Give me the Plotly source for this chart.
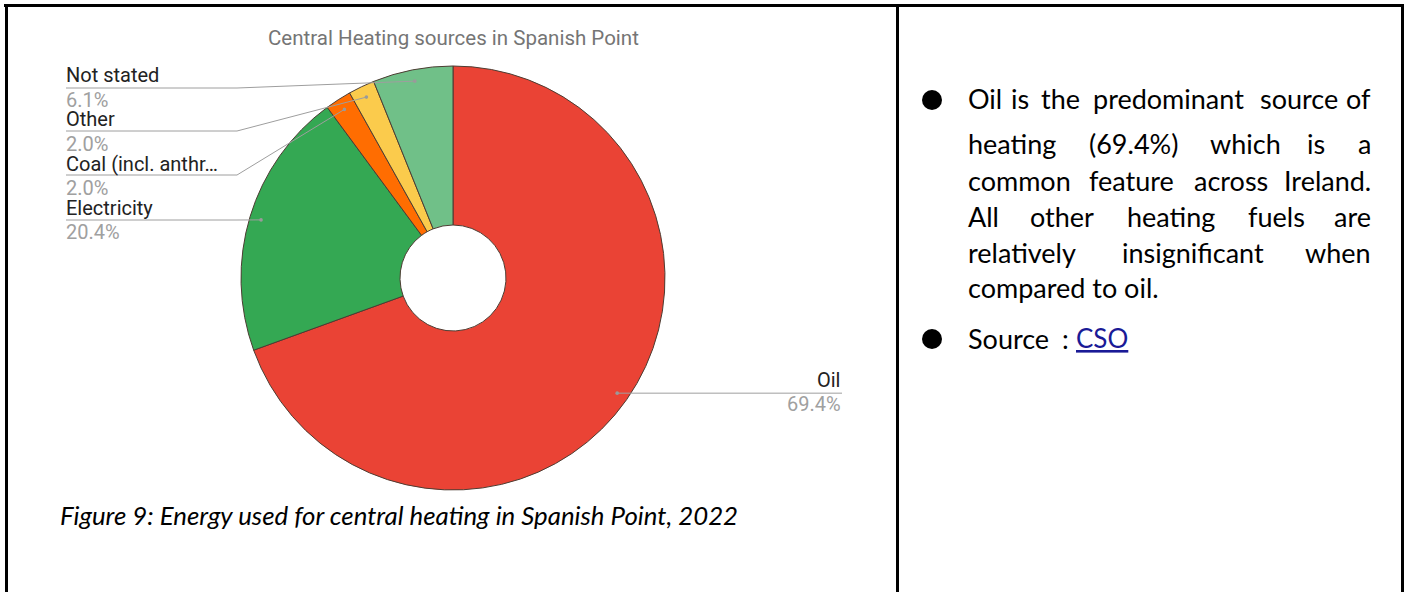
import math
import plotly.graph_objects as go

# ---------------- data ----------------
labels = ["Oil", "Electricity", "Coal (incl. anthracite)", "Other", "Not stated"]
short_labels = ["Oil", "Electricity", "Coal (incl. anthr\u2026", "Other", "Not stated"]
values = [69.4, 20.4, 2.0, 2.0, 6.1]
pct_text = ["69.4%", "20.4%", "2.0%", "2.0%", "6.1%"]
colors = ["#EA4335", "#34A853", "#FF6D01", "#FBCB4C", "#70C088"]

chart_title = "Central Heating sources in Spanish Point"
caption = "Figure 9: Energy used for central heating in Spanish Point, 2022"

# right-hand cell text: each line as list of (word, left-x) ; last word right-aligned
text_lines = [
    [("Oil", 966), ("is", 1009), ("the", 1039), ("predominant", 1091), ("source", 1258), ("of", None)],
    [("heating", 966), ("(69.4%)", 1087), ("which", 1208), ("is", 1305), ("a", None)],
    [("common", 966), ("feature", 1087), ("across", 1192), ("Ireland.", None)],
    [("All", 966), ("other", 1028), ("heating", 1125), ("fuels", 1246), ("are", None)],
    [("relatively", 966), ("insignificant", 1120), ("when", None)],
    [("compared to oil.", 966)],
]
line_y = [99, 144, 180, 216, 252, 287]

W, H = 1404, 592


def X(x):
    return x / W


def Y(y):
    return 1 - y / H


# pie geometry in pixels
cx, cy, R = 453, 278, 212

fig = go.Figure()
fig.add_trace(go.Pie(
    labels=labels,
    values=values,
    marker=dict(colors=colors, line=dict(color="#4d3d33", width=1)),
    hole=0.25,
    sort=False,
    direction="clockwise",
    rotation=0,
    textinfo="none",
    hoverinfo="label+percent",
    showlegend=False,
    domain=dict(x=[X(cx - R), X(cx + R)], y=[Y(cy + R), Y(cy - R)]),
))

shapes = []
annotations = []

# leader-line anchor points computed from the data
total = sum(values)
cum = 0
dots = []
for v in values:
    mid = (cum + v / 2) / total * 2 * math.pi
    cum += v
    r = 0.946 * R
    dots.append((cx + r * math.sin(mid), cy - r * math.cos(mid)))

# label rows (name y, underline y, pct y)
left_rows = {4: (75, 88, 100), 3: (119, 131, 144), 2: (164, 175, 188), 1: (208, 220, 232)}
name_font = dict(family="Roboto, Arial, sans-serif", size=20, color="#222222")
pct_font = dict(family="Roboto, Arial, sans-serif", size=20, color="#a0a0a0")
line_col = "#9e9e9e"

for i, (ny, uy, py) in left_rows.items():
    dx, dy = dots[i]
    shapes.append(dict(type="line", xref="paper", yref="paper", x0=X(66), y0=Y(uy), x1=X(237), y1=Y(uy),
                       line=dict(color=line_col, width=1)))
    shapes.append(dict(type="line", xref="paper", yref="paper", x0=X(237), y0=Y(uy), x1=X(dx), y1=Y(dy),
                       line=dict(color=line_col, width=1)))
    annotations.append(dict(xref="paper", yref="paper", x=X(64), y=Y(ny), text=short_labels[i],
                            showarrow=False, xanchor="left", yanchor="middle", font=name_font))
    annotations.append(dict(xref="paper", yref="paper", x=X(64), y=Y(py), text=pct_text[i],
                            showarrow=False, xanchor="left", yanchor="middle", font=pct_font))

# Oil label on the right
dx, dy = dots[0]
shapes.append(dict(type="line", xref="paper", yref="paper", x0=X(dx), y0=Y(dy), x1=X(842), y1=Y(dy),
                   line=dict(color=line_col, width=1)))
annotations.append(dict(xref="paper", yref="paper", x=X(843), y=Y(380), text=short_labels[0],
                        showarrow=False, xanchor="right", yanchor="middle", font=name_font))
annotations.append(dict(xref="paper", yref="paper", x=X(843), y=Y(404), text=pct_text[0],
                        showarrow=False, xanchor="right", yanchor="middle", font=pct_font))

# dots
for (dx, dy) in dots:
    shapes.append(dict(type="circle", xref="paper", yref="paper", x0=X(dx - 1.8), x1=X(dx + 1.8),
                       y0=Y(dy + 1.8), y1=Y(dy - 1.8), fillcolor="#9a9a9a", line=dict(width=0)))

# chart title
annotations.append(dict(xref="paper", yref="paper", x=X(453), y=Y(38), text=chart_title, showarrow=False,
                        xanchor="center", yanchor="middle",
                        font=dict(family="Roboto, Arial, sans-serif", size=20.5, color="#757575")))

# caption
annotations.append(dict(xref="paper", yref="paper", x=X(58), y=Y(515), text="<i>" + caption + "</i>",
                        showarrow=False, xanchor="left", yanchor="middle",
                        font=dict(family="Lato, sans-serif", size=25.8, color="#000000")))

# right-hand text
body_font = dict(family="Lato, sans-serif", size=27, color="#000000")
for words, yy in zip(text_lines, line_y):
    for w, xx in words:
        if xx is None:
            annotations.append(dict(xref="paper", yref="paper", x=X(1373), y=Y(yy), text=w, showarrow=False,
                                    xanchor="right", yanchor="middle", font=body_font))
        else:
            annotations.append(dict(xref="paper", yref="paper", x=X(xx), y=Y(yy), text=w, showarrow=False,
                                    xanchor="left", yanchor="middle", font=body_font))

annotations.append(dict(xref="paper", yref="paper", x=X(966), y=Y(338), text="Source", showarrow=False,
                        xanchor="left", yanchor="middle", font=body_font))
annotations.append(dict(xref="paper", yref="paper", x=X(1060), y=Y(338), text=":", showarrow=False,
                        xanchor="left", yanchor="middle", font=body_font))
annotations.append(dict(xref="paper", yref="paper", x=X(1074), y=Y(338),
                        text="<u>CSO</u>", showarrow=False,
                        xanchor="left", yanchor="middle", font=dict(family="Lato, sans-serif", size=26, color="#1a1a96")))

# bullets
for by in [100, 339]:
    shapes.append(dict(type="circle", xref="paper", yref="paper", x0=X(932 - 10), x1=X(932 + 10),
                       y0=Y(by + 10), y1=Y(by - 10), fillcolor="#000000", line=dict(width=0)))

# table borders
border = dict(color="#000000", width=3)
shapes += [
    dict(type="line", xref="paper", yref="paper", x0=X(4), x1=X(1404), y0=Y(5.5), y1=Y(5.5), line=border),
    dict(type="line", xref="paper", yref="paper", x0=X(6.5), x1=X(6.5), y0=Y(4), y1=Y(592), line=border),
    dict(type="line", xref="paper", yref="paper", x0=X(897.5), x1=X(897.5), y0=Y(4), y1=Y(592), line=border),
    dict(type="line", xref="paper", yref="paper", x0=X(1402.5), x1=X(1402.5), y0=Y(4), y1=Y(592), line=border),
]

fig.update_layout(
    width=W, height=H, autosize=False,
    margin=dict(l=0, r=0, t=0, b=0),
    paper_bgcolor="#ffffff", plot_bgcolor="#ffffff",
    shapes=shapes, annotations=annotations,
)

fig.write_html("out.html", config={"displayModeBar": False},
               post_script="document.body.style.margin='0';document.body.style.overflow='hidden';")
